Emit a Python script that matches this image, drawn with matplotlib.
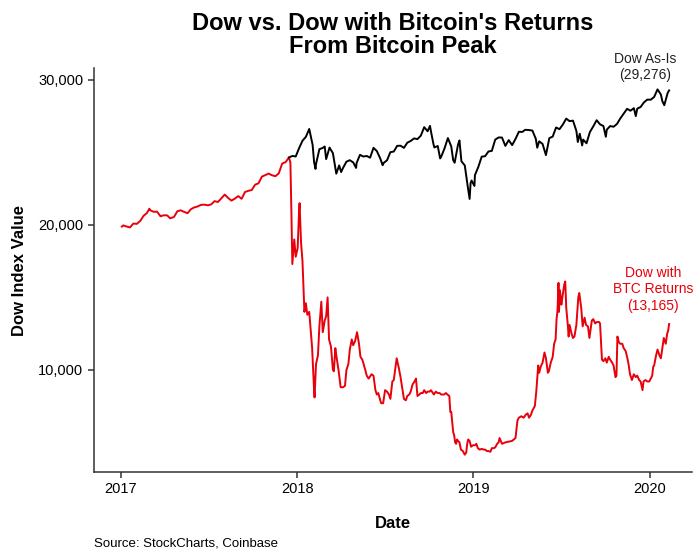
import pandas as pd
import matplotlib.pyplot as plt
import matplotlib.dates as mdates
from matplotlib.ticker import FuncFormatter

plt.rcParams['font.family'] = ['Liberation Sans', 'DejaVu Sans']

# Dow 2017 up to the bitcoin peak (shared start of the red series)
dow_2017_dates = [
    "2017-01-03", "2017-01-06", "2017-01-13", "2017-01-20", "2017-01-27", "2017-02-03",
    "2017-02-10", "2017-02-17", "2017-02-24", "2017-03-01", "2017-03-03", "2017-03-10",
    "2017-03-17", "2017-03-24", "2017-03-31", "2017-04-07", "2017-04-13", "2017-04-21",
    "2017-04-28", "2017-05-05", "2017-05-12", "2017-05-19", "2017-05-26", "2017-06-02",
    "2017-06-09", "2017-06-16", "2017-06-23", "2017-06-30", "2017-07-07", "2017-07-14",
    "2017-07-21", "2017-07-28", "2017-08-04", "2017-08-11", "2017-08-18", "2017-08-25",
    "2017-09-01", "2017-09-08", "2017-09-15", "2017-09-22", "2017-09-29", "2017-10-06",
    "2017-10-13", "2017-10-20", "2017-10-27", "2017-11-03", "2017-11-10", "2017-11-17",
    "2017-11-24", "2017-12-01", "2017-12-08", "2017-12-15",
]
dow_2017_values = [
    19882, 19964, 19886, 19827, 20094, 20071,
    20269, 20624, 20822, 21115, 21006, 20903,
    20915, 20597, 20663, 20656, 20453, 20548,
    20941, 21007, 20897, 20805, 21080, 21206,
    21272, 21384, 21395, 21350, 21414, 21638,
    21580, 21830, 22092, 21858, 21675, 21814,
    21988, 21798, 22268, 22350, 22405, 22774,
    22871, 23329, 23434, 23539, 23422, 23358,
    23558, 24232, 24329, 24651,
]

# Dow as-is after the peak
dow_dates = [
    "2017-12-15", "2017-12-22", "2017-12-29", "2018-01-05", "2018-01-12", "2018-01-19",
    "2018-01-26", "2018-02-02", "2018-02-05", "2018-02-08", "2018-02-09", "2018-02-16",
    "2018-02-23", "2018-02-27", "2018-03-02", "2018-03-09", "2018-03-16", "2018-03-23",
    "2018-03-29", "2018-04-02", "2018-04-06", "2018-04-13", "2018-04-20", "2018-04-27",
    "2018-05-03", "2018-05-04", "2018-05-11", "2018-05-18", "2018-05-25", "2018-06-01",
    "2018-06-08", "2018-06-15", "2018-06-22", "2018-06-27", "2018-06-29", "2018-07-06",
    "2018-07-13", "2018-07-20", "2018-07-27", "2018-08-03", "2018-08-10", "2018-08-17",
    "2018-08-24", "2018-08-31", "2018-09-07", "2018-09-14", "2018-09-21", "2018-09-28",
    "2018-10-03", "2018-10-05", "2018-10-10", "2018-10-12", "2018-10-19", "2018-10-24",
    "2018-10-26", "2018-11-02", "2018-11-09", "2018-11-16", "2018-11-20", "2018-11-23",
    "2018-11-30", "2018-12-03", "2018-12-07", "2018-12-14", "2018-12-21", "2018-12-24",
    "2018-12-26", "2018-12-28", "2019-01-03", "2019-01-04", "2019-01-11", "2019-01-18",
    "2019-01-25", "2019-02-01", "2019-02-08", "2019-02-15", "2019-02-22", "2019-03-01",
    "2019-03-08", "2019-03-15", "2019-03-22", "2019-03-29", "2019-04-05", "2019-04-12",
    "2019-04-18", "2019-04-26", "2019-05-03", "2019-05-10", "2019-05-13", "2019-05-17",
    "2019-05-24", "2019-05-31", "2019-06-07", "2019-06-14", "2019-06-21", "2019-06-28",
    "2019-07-05", "2019-07-12", "2019-07-19", "2019-07-26", "2019-08-02", "2019-08-05",
    "2019-08-09", "2019-08-14", "2019-08-16", "2019-08-23", "2019-08-30", "2019-09-06",
    "2019-09-13", "2019-09-20", "2019-09-27", "2019-10-02", "2019-10-04", "2019-10-11",
    "2019-10-18", "2019-10-25", "2019-11-01", "2019-11-08", "2019-11-15", "2019-11-22",
    "2019-11-29", "2019-12-03", "2019-12-06", "2019-12-13", "2019-12-20", "2019-12-27",
    "2020-01-03", "2020-01-10", "2020-01-17", "2020-01-24", "2020-01-27", "2020-01-31",
    "2020-02-07", "2020-02-10",
]
dow_values = [
    24651, 24754, 24719, 25295, 25803, 26072,
    26616, 25521, 24346, 23860, 24191, 25219,
    25310, 25410, 24538, 25336, 24946, 23533,
    24103, 23644, 23933, 24360, 24463, 24311,
    23930, 24263, 24831, 24715, 24753, 24635,
    25317, 25090, 24581, 24117, 24271, 24456,
    25019, 25058, 25451, 25463, 25313, 25669,
    25790, 25965, 25917, 26155, 26743, 26458,
    26828, 26447, 25599, 25340, 25444, 24583,
    24688, 25271, 25989, 25413, 24465, 24286,
    25538, 25826, 24389, 24101, 22445, 21792,
    22878, 23062, 22686, 23433, 23996, 24706,
    24737, 25064, 25106, 25883, 26031, 26026,
    25450, 25849, 25502, 25929, 26425, 26412,
    26559, 26543, 26505, 25942, 25325, 25764,
    25586, 24815, 25984, 26090, 26720, 26600,
    26922, 27332, 27154, 27192, 26485, 25718,
    26287, 25480, 25886, 25629, 26403, 26797,
    27220, 26935, 26820, 26079, 26573, 26817,
    26770, 26958, 27347, 27681, 28005, 27876,
    28051, 27503, 28015, 28135, 28455, 28645,
    28634, 28823, 29348, 28990, 28535, 28256,
    29102, 29276,
]

# Dow at the peak carried forward with bitcoin's returns
btc_dates = [
    "2017-12-18", "2017-12-20", "2017-12-22", "2017-12-26", "2017-12-29", "2018-01-02",
    "2018-01-05", "2018-01-06", "2018-01-09", "2018-01-12", "2018-01-16", "2018-01-19",
    "2018-01-22", "2018-01-26", "2018-02-01", "2018-02-05", "2018-02-06", "2018-02-09",
    "2018-02-13", "2018-02-16", "2018-02-20", "2018-02-23", "2018-02-27", "2018-03-02",
    "2018-03-05", "2018-03-08", "2018-03-12", "2018-03-16", "2018-03-18", "2018-03-21",
    "2018-03-23", "2018-03-28", "2018-04-01", "2018-04-06", "2018-04-10", "2018-04-13",
    "2018-04-17", "2018-04-20", "2018-04-24", "2018-04-27", "2018-05-01", "2018-05-05",
    "2018-05-09", "2018-05-12", "2018-05-16", "2018-05-22", "2018-05-25", "2018-05-29",
    "2018-06-04", "2018-06-08", "2018-06-12", "2018-06-15", "2018-06-18", "2018-06-22",
    "2018-06-24", "2018-06-28", "2018-07-02", "2018-07-06", "2018-07-10", "2018-07-13",
    "2018-07-17", "2018-07-20", "2018-07-24", "2018-07-26", "2018-07-30", "2018-08-03",
    "2018-08-08", "2018-08-10", "2018-08-14", "2018-08-17", "2018-08-21", "2018-08-24",
    "2018-08-28", "2018-09-01", "2018-09-04", "2018-09-07", "2018-09-11", "2018-09-14",
    "2018-09-18", "2018-09-21", "2018-09-25", "2018-09-28", "2018-10-02", "2018-10-05",
    "2018-10-11", "2018-10-15", "2018-10-19", "2018-10-23", "2018-10-26", "2018-11-01",
    "2018-11-05", "2018-11-08", "2018-11-12", "2018-11-14", "2018-11-16", "2018-11-19",
    "2018-11-20", "2018-11-22", "2018-11-24", "2018-11-26", "2018-11-28", "2018-11-30",
    "2018-12-03", "2018-12-06", "2018-12-10", "2018-12-14", "2018-12-17", "2018-12-19",
    "2018-12-21", "2018-12-24", "2018-12-27", "2018-12-31", "2019-01-04", "2019-01-07",
    "2019-01-10", "2019-01-14", "2019-01-18", "2019-01-22", "2019-01-25", "2019-01-29",
    "2019-02-01", "2019-02-05", "2019-02-08", "2019-02-12", "2019-02-15", "2019-02-19",
    "2019-02-22", "2019-02-24", "2019-03-01", "2019-03-08", "2019-03-15", "2019-03-22",
    "2019-03-29", "2019-04-02", "2019-04-05", "2019-04-10", "2019-04-15", "2019-04-19",
    "2019-04-23", "2019-04-26", "2019-04-30", "2019-05-03", "2019-05-08", "2019-05-11",
    "2019-05-13", "2019-05-15", "2019-05-17", "2019-05-20", "2019-05-24", "2019-05-28",
    "2019-05-31", "2019-06-04", "2019-06-06", "2019-06-10", "2019-06-14", "2019-06-17",
    "2019-06-20", "2019-06-22", "2019-06-24", "2019-06-26", "2019-06-27", "2019-06-29",
    "2019-07-02", "2019-07-04", "2019-07-08", "2019-07-10", "2019-07-12", "2019-07-15",
    "2019-07-17", "2019-07-19", "2019-07-23", "2019-07-26", "2019-07-29", "2019-08-02",
    "2019-08-06", "2019-08-08", "2019-08-12", "2019-08-15", "2019-08-19", "2019-08-22",
    "2019-08-26", "2019-08-29", "2019-09-03", "2019-09-06", "2019-09-10", "2019-09-13",
    "2019-09-18", "2019-09-20", "2019-09-24", "2019-09-27", "2019-10-01", "2019-10-04",
    "2019-10-08", "2019-10-11", "2019-10-15", "2019-10-18", "2019-10-22", "2019-10-24",
    "2019-10-26", "2019-10-29", "2019-11-01", "2019-11-05", "2019-11-08", "2019-11-12",
    "2019-11-15", "2019-11-18", "2019-11-21", "2019-11-25", "2019-11-29", "2019-12-03",
    "2019-12-06", "2019-12-10", "2019-12-13", "2019-12-17", "2019-12-19", "2019-12-23",
    "2019-12-27", "2019-12-31", "2020-01-03", "2020-01-06", "2020-01-08", "2020-01-10",
    "2020-01-14", "2020-01-17", "2020-01-21", "2020-01-24", "2020-01-27", "2020-01-30",
    "2020-02-03", "2020-02-06", "2020-02-08", "2020-02-10",
]
btc_values = [
    24300, 21000, 17300, 19000, 17800, 18400,
    21000, 21500, 18800, 17500, 14000, 14600,
    13800, 14000, 11500, 8600, 8100, 10400,
    11000, 13000, 14700, 12600, 13400, 13700,
    15000, 12100, 11600, 10000, 9900, 11500,
    11000, 9900, 8800, 8800, 8900, 10000,
    10400, 11400, 12100, 11700, 12000, 12600,
    11800, 10900, 10700, 10000, 9600, 9400,
    9700, 9600, 8600, 8300, 8400, 7900,
    7700, 7700, 8600, 8500, 8300, 8000,
    9200, 9300, 10300, 10800, 10200, 9500,
    8400, 8000, 7900, 8200, 8300, 8500,
    9000, 9200, 9400, 8200, 8300, 8400,
    8400, 8600, 8400, 8500, 8500, 8600,
    8300, 8500, 8400, 8400, 8300, 8300,
    8400, 8300, 8200, 7100, 7100, 6000,
    5700, 5500, 5000, 4900, 5200, 5100,
    5000, 4500, 4400, 4150, 4300, 4900,
    5200, 5100, 4700, 4800, 4800, 4900,
    4600, 4500, 4550, 4500, 4500, 4400,
    4400, 4350, 4600, 4600, 4650, 4900,
    5000, 5300, 4900, 5000, 5050, 5100,
    5300, 6500, 6700, 6800, 6700, 6900,
    7000, 6700, 6900, 7200, 7500, 8500,
    9400, 10300, 9800, 10200, 10500, 11200,
    10800, 9800, 9900, 10500, 10900, 11800,
    12100, 13500, 14100, 16000, 14000, 15500,
    14500, 15000, 15900, 16100, 14300, 13200,
    12300, 13100, 12500, 12200, 12300, 13100,
    15000, 15300, 14300, 13000, 13600, 13100,
    13000, 12200, 13400, 13500, 13200, 13300,
    13300, 13200, 10700, 10600, 10800, 10500,
    10900, 10700, 10500, 10300, 9500, 9600,
    12300, 11900, 11800, 11800, 11500, 11300,
    10900, 10400, 9700, 9300, 9700, 9500,
    9600, 9300, 9200, 8600, 9200, 9300,
    9200, 9200, 9400, 9600, 10200, 10300,
    11000, 11400, 11000, 10800, 11500, 12200,
    11800, 12500, 12700, 13165,
]

red_x = pd.to_datetime(dow_2017_dates + btc_dates)
red_y = dow_2017_values + btc_values
black_x = pd.to_datetime(dow_dates)
black_y = dow_values

red = "#e8000b"

fig = plt.figure(figsize=(7, 5.6), dpi=100)
ax = fig.add_axes([0.134, 0.157, 0.855, 0.721])

ax.plot(red_x, red_y, color=red, lw=1.4)
ax.plot(black_x, black_y, color="black", lw=1.4)

ax.set_xlim(pd.Timestamp("2016-11-06"), pd.Timestamp("2020-03-29"))
ax.set_ylim(2950, 30800)
ax.set_yticks([10000, 20000, 30000])
ax.yaxis.set_major_formatter(FuncFormatter(lambda v, p: f"{int(v):,}"))
ax.xaxis.set_major_locator(mdates.YearLocator())
ax.xaxis.set_major_formatter(mdates.DateFormatter("%Y"))

for s in ["top", "right"]:
    ax.spines[s].set_visible(False)
for s in ["left", "bottom"]:
    ax.spines[s].set_color("#333333")
    ax.spines[s].set_linewidth(1.1)
ax.tick_params(colors="#333333", labelsize=10.5, length=4, width=1.1)
for lab in ax.get_xticklabels() + ax.get_yticklabels():
    lab.set_color("black")

ax.set_xlabel("Date", fontsize=12, fontweight="bold", labelpad=14)
ax.set_ylabel("Dow Index Value", fontsize=12, fontweight="bold", labelpad=8)

fig.text(0.561, 0.978, "Dow vs. Dow with Bitcoin's Returns\nFrom Bitcoin Peak",
         ha="center", va="top", fontsize=17, fontweight="bold", linespacing=1.0)

ax.text(pd.Timestamp("2019-12-23"), 29850, "Dow As-Is\n(29,276)",
        ha="center", va="bottom", fontsize=10, color="#222222")
ax.text(pd.Timestamp("2020-01-07"), 13950, "Dow with\nBTC Returns\n(13,165)",
        ha="center", va="bottom", fontsize=10, color=red)

fig.text(0.134, 0.018, "Source: StockCharts, Coinbase", fontsize=9.5, ha="left", va="bottom")

fig.savefig("out.png", dpi=100)
